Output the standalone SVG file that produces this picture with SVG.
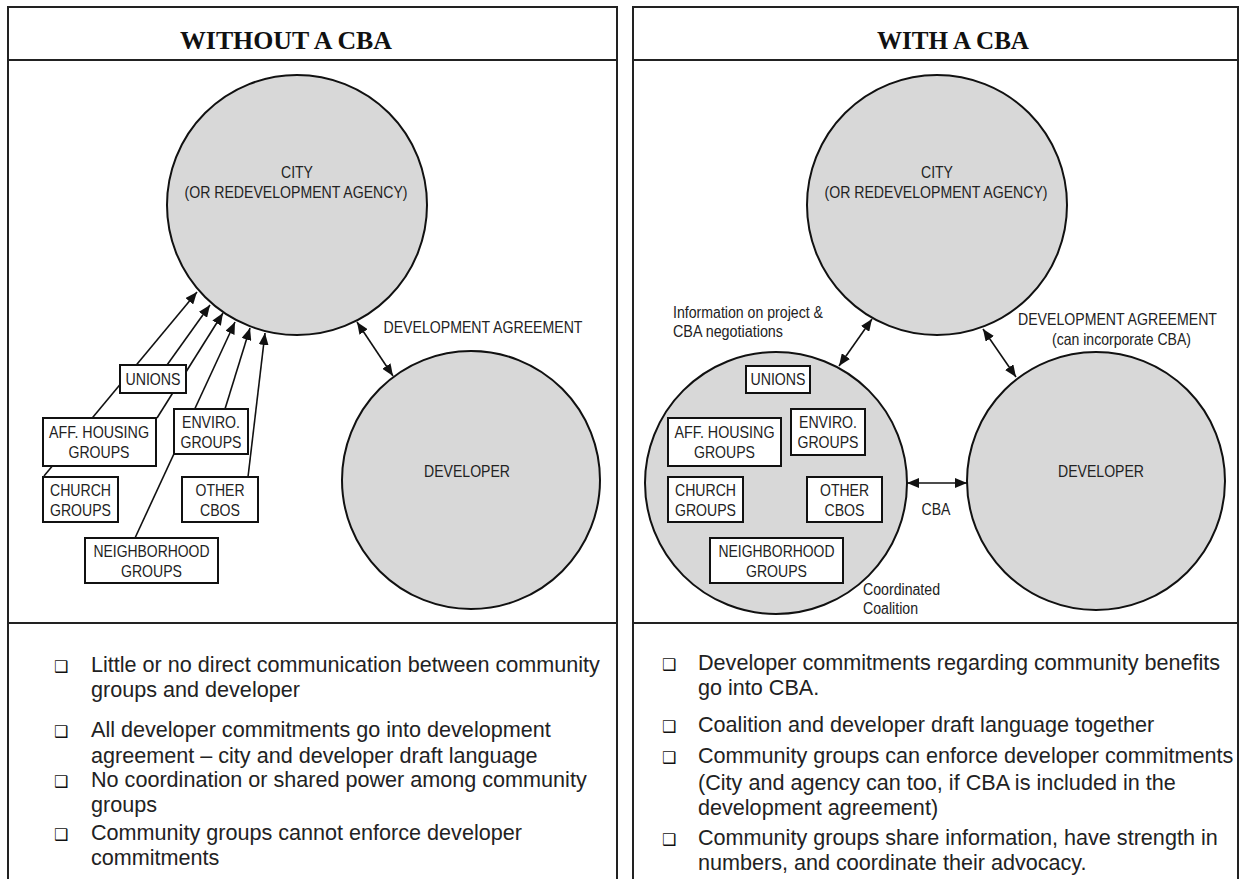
<svg xmlns="http://www.w3.org/2000/svg" width="1241" height="879" viewBox="0 0 1241 879">
<defs>
<style>
.frame{fill:none;stroke:#222;stroke-width:2}
.circ{fill:#d8d8d8;stroke:#111;stroke-width:2}
.box{fill:#fff;stroke:#111;stroke-width:2}
.conn{fill:none;stroke:#111;stroke-width:1.6}
.lbl{font-family:"Liberation Sans",Arial,sans-serif;font-size:16.5px;fill:#222;text-anchor:middle}
.lbls{font-family:"Liberation Sans",Arial,sans-serif;font-size:16px;fill:#222}
.title{font-family:"Liberation Serif","Times New Roman",serif;font-size:24.5px;font-weight:bold;fill:#111;text-anchor:middle}
.bul{font-family:"Liberation Sans",Arial,sans-serif;font-size:21.6px;fill:#222}
.sq{font-family:"DejaVu Sans",sans-serif;font-size:16px;fill:#111}
</style>
<marker id="ah" viewBox="0 0 12 10" refX="12" refY="5" markerWidth="12" markerHeight="10" markerUnits="userSpaceOnUse" orient="auto-start-reverse"><path d="M0,0 L12,5 L0,10 Z" fill="#111"/></marker>
</defs>
<rect width="1241" height="879" fill="#fff"/>

<g id="frames">
<path class="frame" d="M8,879 V7 H617 V879 M8,60 H617 M8,623 H617"/>
<path class="frame" d="M633,879 V7 H1238 V879 M633,60 H1238 M633,623 H1238"/>
<text class="title" x="286" y="49" textLength="212" lengthAdjust="spacingAndGlyphs">WITHOUT A CBA</text>
<text class="title" x="953" y="49" textLength="152" lengthAdjust="spacingAndGlyphs">WITH A CBA</text>
</g>

<!-- LEFT PANEL -->
<g id="city-left">
<circle class="circ" cx="297" cy="205" r="130"/>
<text class="lbl" x="297" y="178" textLength="32" lengthAdjust="spacingAndGlyphs">CITY</text>
<text class="lbl" x="296" y="198" textLength="223" lengthAdjust="spacingAndGlyphs">(OR REDEVELOPMENT AGENCY)</text>
</g>
<g id="developer-left">
<circle class="circ" cx="471" cy="480" r="129"/>
<text class="lbl" x="467" y="477" textLength="86" lengthAdjust="spacingAndGlyphs">DEVELOPER</text>
</g>

<g id="connectors-left">
<line class="conn" x1="44" y1="476" x2="197" y2="292" marker-end="url(#ah)"/>
<line class="conn" x1="167" y1="365" x2="210" y2="305" marker-end="url(#ah)"/>
<line class="conn" x1="157" y1="418" x2="223" y2="313" marker-end="url(#ah)"/>
<line class="conn" x1="135" y1="538" x2="235" y2="322" marker-end="url(#ah)"/>
<line class="conn" x1="225" y1="409" x2="250" y2="328" marker-end="url(#ah)"/>
<line class="conn" x1="248" y1="477" x2="265" y2="333" marker-end="url(#ah)"/>
<line class="conn" x1="357" y1="322" x2="393" y2="376" marker-start="url(#ah)" marker-end="url(#ah)"/>
<text class="lbl" x="483" y="333" textLength="199" lengthAdjust="spacingAndGlyphs">DEVELOPMENT AGREEMENT</text>
</g>

<g id="unions-left"><rect class="box" x="120" y="365" width="66" height="28"/><text class="lbl" x="153" y="385" textLength="55" lengthAdjust="spacingAndGlyphs">UNIONS</text></g>
<g id="affhousing-left"><rect class="box" x="43" y="418" width="113" height="48"/><text class="lbl" x="99" y="438" textLength="100" lengthAdjust="spacingAndGlyphs">AFF. HOUSING</text><text class="lbl" x="99" y="458" textLength="61" lengthAdjust="spacingAndGlyphs">GROUPS</text></g>
<g id="enviro-left"><rect class="box" x="174" y="409" width="74" height="45"/><text class="lbl" x="211" y="428" textLength="58" lengthAdjust="spacingAndGlyphs">ENVIRO.</text><text class="lbl" x="211" y="448" textLength="61" lengthAdjust="spacingAndGlyphs">GROUPS</text></g>
<g id="church-left"><rect class="box" x="43" y="477" width="75" height="45"/><text class="lbl" x="80.5" y="496" textLength="61" lengthAdjust="spacingAndGlyphs">CHURCH</text><text class="lbl" x="80.5" y="516" textLength="61" lengthAdjust="spacingAndGlyphs">GROUPS</text></g>
<g id="other-left"><rect class="box" x="182" y="477" width="76" height="45"/><text class="lbl" x="220" y="496" textLength="49" lengthAdjust="spacingAndGlyphs">OTHER</text><text class="lbl" x="220" y="516" textLength="40" lengthAdjust="spacingAndGlyphs">CBOS</text></g>
<g id="neighborhood-left"><rect class="box" x="85" y="538" width="133" height="45"/><text class="lbl" x="151.5" y="557" textLength="116" lengthAdjust="spacingAndGlyphs">NEIGHBORHOOD</text><text class="lbl" x="151.5" y="577" textLength="61" lengthAdjust="spacingAndGlyphs">GROUPS</text></g>

<g id="bullets-left">
<text class="sq" x="54" y="672">❑</text>
<text class="bul" x="91" y="672">Little or no direct communication between community</text>
<text class="bul" x="91" y="697">groups and developer</text>
<text class="sq" x="54" y="737">❑</text>
<text class="bul" x="91" y="737">All developer commitments go into development</text>
<text class="bul" x="91" y="763">agreement – city and developer draft language</text>
<text class="sq" x="54" y="787">❑</text>
<text class="bul" x="91" y="787">No coordination or shared power among community</text>
<text class="bul" x="91" y="812">groups</text>
<text class="sq" x="54" y="840">❑</text>
<text class="bul" x="91" y="840">Community groups cannot enforce developer</text>
<text class="bul" x="91" y="865">commitments</text>
</g>

<!-- RIGHT PANEL -->
<g id="city-right">
<circle class="circ" cx="937" cy="205" r="130"/>
<text class="lbl" x="937" y="178" textLength="32" lengthAdjust="spacingAndGlyphs">CITY</text>
<text class="lbl" x="936" y="198" textLength="223" lengthAdjust="spacingAndGlyphs">(OR REDEVELOPMENT AGENCY)</text>
</g>
<g id="developer-right">
<circle class="circ" cx="1096" cy="481" r="129"/>
<text class="lbl" x="1101" y="477" textLength="86" lengthAdjust="spacingAndGlyphs">DEVELOPER</text>
</g>
<g id="coalition">
<circle class="circ" cx="776" cy="483" r="131"/>
<text class="lbls" x="863" y="595" textLength="77" lengthAdjust="spacingAndGlyphs">Coordinated</text>
<text class="lbls" x="863" y="614" textLength="55" lengthAdjust="spacingAndGlyphs">Coalition</text>
</g>

<g id="connectors-right">
<line class="conn" x1="839" y1="366" x2="872" y2="319" marker-start="url(#ah)" marker-end="url(#ah)"/>
<line class="conn" x1="983" y1="329" x2="1016" y2="377" marker-start="url(#ah)" marker-end="url(#ah)"/>
<line class="conn" x1="907" y1="483" x2="967" y2="483" marker-start="url(#ah)" marker-end="url(#ah)"/>
<text class="lbls" x="673" y="318" textLength="150" lengthAdjust="spacingAndGlyphs">Information on project &amp;</text>
<text class="lbls" x="673" y="337" textLength="110" lengthAdjust="spacingAndGlyphs">CBA negotiations</text>
<text class="lbl" x="1117.5" y="325" textLength="199" lengthAdjust="spacingAndGlyphs">DEVELOPMENT AGREEMENT</text>
<text class="lbl" x="1121.5" y="345" textLength="139" lengthAdjust="spacingAndGlyphs">(can incorporate CBA)</text>
<text class="lbl" x="936" y="515" textLength="29" lengthAdjust="spacingAndGlyphs">CBA</text>
</g>

<g id="unions-right"><rect class="box" x="746" y="366" width="64" height="27"/><text class="lbl" x="778" y="385" textLength="55" lengthAdjust="spacingAndGlyphs">UNIONS</text></g>
<g id="affhousing-right"><rect class="box" x="668" y="418" width="113" height="48"/><text class="lbl" x="724.5" y="438" textLength="100" lengthAdjust="spacingAndGlyphs">AFF. HOUSING</text><text class="lbl" x="724.5" y="458" textLength="61" lengthAdjust="spacingAndGlyphs">GROUPS</text></g>
<g id="enviro-right"><rect class="box" x="791" y="409" width="74" height="46"/><text class="lbl" x="828" y="428" textLength="58" lengthAdjust="spacingAndGlyphs">ENVIRO.</text><text class="lbl" x="828" y="448" textLength="61" lengthAdjust="spacingAndGlyphs">GROUPS</text></g>
<g id="church-right"><rect class="box" x="668" y="477" width="75" height="45"/><text class="lbl" x="705.5" y="496" textLength="61" lengthAdjust="spacingAndGlyphs">CHURCH</text><text class="lbl" x="705.5" y="516" textLength="61" lengthAdjust="spacingAndGlyphs">GROUPS</text></g>
<g id="other-right"><rect class="box" x="807" y="477" width="75" height="45"/><text class="lbl" x="844.5" y="496" textLength="49" lengthAdjust="spacingAndGlyphs">OTHER</text><text class="lbl" x="844.5" y="516" textLength="40" lengthAdjust="spacingAndGlyphs">CBOS</text></g>
<g id="neighborhood-right"><rect class="box" x="710" y="538" width="133" height="45"/><text class="lbl" x="776.5" y="557" textLength="116" lengthAdjust="spacingAndGlyphs">NEIGHBORHOOD</text><text class="lbl" x="776.5" y="577" textLength="61" lengthAdjust="spacingAndGlyphs">GROUPS</text></g>

<g id="bullets-right">
<text class="sq" x="662" y="670">❑</text>
<text class="bul" x="698" y="670">Developer commitments regarding community benefits</text>
<text class="bul" x="698" y="695">go into CBA.</text>
<text class="sq" x="662" y="732">❑</text>
<text class="bul" x="698" y="732">Coalition and developer draft language together</text>
<text class="sq" x="662" y="763">❑</text>
<text class="bul" x="698" y="763">Community groups can enforce developer commitments</text>
<text class="bul" x="698" y="790">(City and agency can too, if CBA is included in the</text>
<text class="bul" x="698" y="815">development agreement)</text>
<text class="sq" x="662" y="845">❑</text>
<text class="bul" x="698" y="845">Community groups share information, have strength in</text>
<text class="bul" x="698" y="870">numbers, and coordinate their advocacy.</text>
</g>
</svg>
